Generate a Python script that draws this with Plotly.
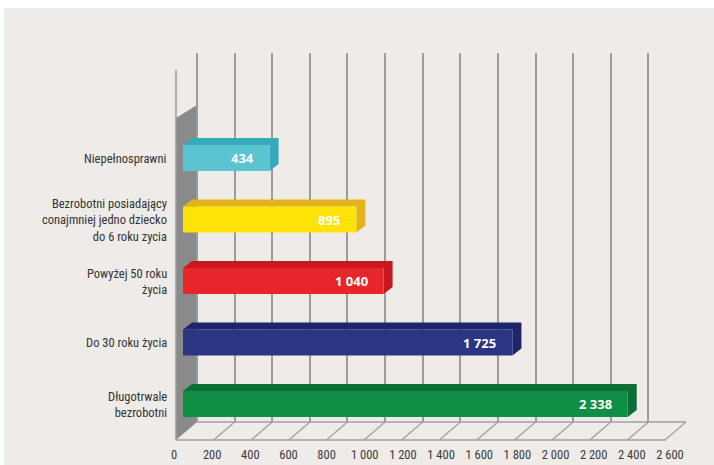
import plotly.graph_objects as go

# ---- data (top to bottom as displayed) ----
categories = [
    "Niepełnosprawni",
    "Bezrobotni posiadający<br>conajmniej jedno dziecko<br>do 6 roku zycia",
    "Powyżej 50 roku<br>życia",
    "Do 30 roku życia",
    "Długotrwale<br>bezrobotni",
]
values = [434, 895, 1040, 1725, 2338]
front_colors = ["#5CC3D0", "#FFE208", "#E6262A", "#2C3582", "#0F8E45"]
side_colors = ["#35AABA", "#E2B41C", "#C8181D", "#1E2568", "#0B6F36"]
tick_values = list(range(0, 2601, 200))


def fmt(v):
    return f"{v:,}".replace(",", " ")


tick_text = [fmt(t) for t in tick_values]

# ---- layout geometry (pixels) ----
WIDTH, HEIGHT = 714, 465
L, R, T, B = 170, 686, 53, 440
PW, PH = R - L, B - T
BACK0, BACK_END = 197, 686          # back wall: 0 and 2600
BACK_BOTTOM = 422
FRONT0, FRONT_END = 176, 666
DX, DY = 9, 7                       # bar depth in px
BAR_H = 26                          # bar front height px
BAR_LEFT_EXTRA = 5                  # bar starts a bit left of 0 (px)
ROW_PX = 61.5
XMAX = 2600


def fx(px):
    return (px - L) / PW


def fy(py):
    return (B - py) / PH


u = XMAX / (BACK_END - BACK0)       # data units per px on back axis
x_min = -(BACK0 - L) * u
yu = 1 / ROW_PX                     # y units per px
n = len(categories)
pos = [n - 1 - i for i in range(n)]
back_center_bottom = 404 - DY       # center of lowest bar (back)
y_min = -(BACK_BOTTOM - back_center_bottom) * yu
y_max = y_min + (BACK_BOTTOM - T) * yu

w = BAR_H * yu
dxu = DX * u
dyu = DY * yu
extra = BAR_LEFT_EXTRA * u

BG = "#EEEBE9"
FONT = "Liberation Sans Narrow, Roboto Condensed, Roboto, DejaVu Sans Condensed, sans-serif"

fig = go.Figure()

# front faces of bars (main subplot = back wall axes)
fig.add_trace(go.Bar(
    orientation="h",
    y=pos,
    x=[v + extra for v in values],
    base=[-(dxu + extra)] * n,
    width=[w] * n,
    offset=-w / 2 - dyu,
    marker=dict(color=front_colors, line=dict(width=0)),
    xaxis="x", yaxis="y",
    hoverinfo="skip",
))

# invisible trace carrying the front (label) axis, separate subplot
fig.add_trace(go.Scatter(
    x=tick_values, y=[0.5] * len(tick_values), mode="markers",
    marker=dict(opacity=0), xaxis="x2", yaxis="y2", hoverinfo="skip",
))

shapes = []
# gray card background with white border top/left
shapes.append(dict(type="rect", xref="paper", yref="paper", layer="below",
                   x0=fx(4), x1=fx(WIDTH + 2), y0=fy(HEIGHT + 2), y1=fy(8),
                   fillcolor=BG, line=dict(width=0)))
# wall (gray left side)
shapes.append(dict(
    type="path", xref="paper", yref="paper", layer="between",
    path=(f"M {fx(FRONT0)},{fy(440)} L {fx(BACK0)},{fy(BACK_BOTTOM)} "
          f"L {fx(BACK0)},{fy(105)} L {fx(FRONT0)},{fy(118)} Z"),
    fillcolor="#8A8A8A", line=dict(width=0),
))
# front-left vertical edge
shapes.append(dict(type="line", xref="paper", yref="paper", layer="between",
                   x0=fx(FRONT0), x1=fx(FRONT0), y0=fy(440), y1=fy(70),
                   line=dict(color="#9A9A9A", width=1.5)))
# front floor line
shapes.append(dict(type="line", xref="paper", yref="paper", layer="between",
                   x0=fx(FRONT0), x1=fx(FRONT_END), y0=fy(440), y1=fy(440),
                   line=dict(color="#A0A0A0", width=1.5)))
# back floor line
shapes.append(dict(type="line", xref="x", yref="paper", layer="between",
                   x0=0, x1=XMAX, y0=fy(BACK_BOTTOM), y1=fy(BACK_BOTTOM),
                   line=dict(color="#A0A0A0", width=1.5)))
# floor diagonals
for t in tick_values[1:]:
    shapes.append(dict(type="line", xref="x", yref="paper", layer="between",
                       xsizemode="pixel", xanchor=t, x0=0, x1=-(BACK0 - FRONT0),
                       y0=fy(BACK_BOTTOM), y1=fy(440),
                       line=dict(color="#A0A0A0", width=1.3)))

# bar extrusions (top + side faces)
for p, v, c in zip(pos, values, side_colors):
    xf0, xf1 = -(dxu + extra), v - dxu
    xb0, xb1 = -extra, v
    yf0, yf1 = p - dyu - w / 2, p - dyu + w / 2
    yb0, yb1 = p - w / 2, p + w / 2
    shapes.append(dict(
        type="path", xref="x", yref="y", layer="between",
        path=(f"M {xf0},{yf1} L {xb0},{yb1} L {xb1},{yb1} L {xb1},{yb0} "
              f"L {xf1},{yf0} L {xf1},{yf1} Z"),
        fillcolor=c, line=dict(width=0),
    ))

annotations = []
for p, v, cat in zip(pos, values, categories):
    annotations.append(dict(
        xref="x", yref="y", x=v - dxu, y=p - dyu, xanchor="right",
        xshift=-14, text=fmt(v), showarrow=False,
        font=dict(family="Open Sans, DejaVu Sans, sans-serif", size=13,
                  color="white", weight="bold"),
    ))
    annotations.append(dict(
        xref="paper", yref="y", x=fx(169), y=p - dyu, xanchor="right",
        text=cat, showarrow=False, align="right",
        font=dict(family=FONT, size=12.5, color="#333333"),
    ))

fig.update_layout(
    width=WIDTH, height=HEIGHT,
    margin=dict(l=L, r=WIDTH - R, t=T, b=HEIGHT - B, pad=0, autoexpand=False),
    paper_bgcolor="#FFFFFF", plot_bgcolor=BG,
    showlegend=False,
    shapes=shapes,
    annotations=annotations,
    xaxis=dict(
        domain=[0, 1], range=[x_min, XMAX], anchor="y",
        tickvals=tick_values, showticklabels=False,
        showgrid=True, gridcolor="#9C9C9C", gridwidth=1.5,
        zeroline=False, showline=False, ticks="",
    ),
    yaxis=dict(
        domain=[fy(BACK_BOTTOM), 1], range=[y_min, y_max], anchor="x",
        visible=False,
    ),
    xaxis2=dict(
        domain=[fx(174), fx(670)], range=[0, XMAX], anchor="y2",
        tickvals=tick_values, ticktext=tick_text,
        showgrid=False, zeroline=False, showline=False, ticks="",
        ticklabelstandoff=5, automargin=False,
        tickfont=dict(family=FONT, size=12.5, color="#3A3A3A"),
    ),
    yaxis2=dict(domain=[0, 0.01], range=[0, 1], anchor="x2", visible=False),
)

fig.write_html(
    "out.html",
    config={"displayModeBar": False},
    post_script="document.body.style.margin='0';document.body.style.overflow='hidden';",
)
